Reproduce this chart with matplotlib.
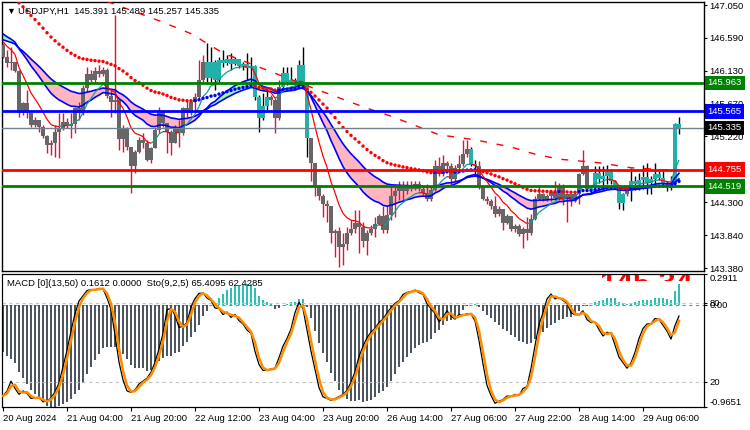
import matplotlib
matplotlib.use('Agg')
import matplotlib.pyplot as plt
import numpy as np
from matplotlib.collections import LineCollection
from matplotlib.transforms import Bbox, TransformedBbox, blended_transform_factory

plt.rcParams['font.family'] = ['Liberation Sans', 'DejaVu Sans']

symbol = 'USDJPY,H1'
first_open = 146.49

close = [
    146.33, 146.24, 146.26, 146.13, 145.54, 145.68, 145.54, 145.38, 145.45, 145.35,
    145.22, 145.10, 145.13, 145.28, 145.33, 145.42, 145.36, 145.39, 145.61, 145.54,
    145.89, 146.09, 146.01, 146.13, 146.09, 146.15, 145.78, 145.70, 145.73, 145.18,
    145.33, 145.07, 144.80, 145.00, 145.17, 145.12, 144.89, 145.05, 145.31, 145.56,
    145.40, 145.28, 145.13, 145.35, 145.26, 145.61, 145.54, 145.70, 145.77, 146.00,
    146.26, 146.03, 146.26, 146.00, 146.28, 146.24, 146.29, 146.23, 146.29, 146.20,
    146.23, 146.17, 146.20, 145.77, 145.47, 145.64, 145.76, 145.73, 145.47, 145.90,
    146.10, 145.98, 146.00, 145.97, 146.21, 145.96, 145.19, 144.84, 144.52, 144.38,
    144.27, 144.24, 143.87, 143.90, 143.68, 143.72, 143.87, 143.93, 144.01, 143.96,
    143.76, 143.87, 143.93, 144.00, 144.11, 143.91, 144.12, 144.39, 144.45, 144.52,
    144.45, 144.53, 144.48, 144.56, 144.48, 144.43, 144.34, 144.47, 144.80, 144.69,
    144.85, 144.80, 144.62, 144.77, 144.83, 144.97, 145.04, 144.83, 144.80, 144.51,
    144.35, 144.32, 144.25, 144.14, 144.21, 144.01, 144.11, 143.92, 143.97, 143.85,
    143.92, 143.87, 144.06, 144.34, 144.41, 144.34, 144.38, 144.44, 144.36, 144.53,
    144.34, 144.41, 144.32, 144.41, 144.69, 144.81, 144.48, 144.52, 144.71, 144.62,
    144.66, 144.72, 144.60, 144.53, 144.29, 144.41, 144.45, 144.60, 144.55, 144.61,
    144.65, 144.57, 144.62, 144.69, 144.64, 144.57, 144.53, 144.56, 145.391, 145.335,
]
high = [
    146.52, 146.42, 146.47, 146.26, 146.14, 145.70, 145.86, 145.49, 145.49, 145.42,
    145.38, 145.24, 145.17, 145.38, 145.54, 145.54, 145.47, 145.54, 145.63, 145.70,
    145.93, 146.19, 146.14, 146.19, 146.21, 146.19, 146.17, 145.86, 146.91, 145.73,
    145.38, 145.35, 145.07, 145.03, 145.21, 145.26, 145.17, 145.07, 145.33, 145.63,
    145.59, 145.40, 145.31, 145.38, 145.45, 145.63, 145.73, 145.73, 145.82, 146.28,
    146.35, 146.52, 146.47, 146.28, 146.33, 146.42, 146.35, 146.38, 146.33, 146.28,
    146.26, 146.38, 146.33, 146.21, 145.80, 145.82, 145.89, 145.80, 145.77, 146.00,
    146.19, 146.19, 146.19, 146.03, 146.28, 146.47, 145.98, 145.19, 144.84, 144.54,
    144.42, 144.33, 144.24, 143.93, 143.96, 143.87, 143.96, 144.05, 144.19, 144.19,
    144.03, 143.91, 143.98, 144.10, 144.14, 144.24, 144.24, 144.56, 144.56, 144.59,
    144.59, 144.59, 144.59, 144.59, 144.59, 144.52, 144.56, 144.52, 144.89, 144.93,
    144.96, 144.87, 144.84, 144.82, 144.96, 145.17, 145.17, 145.07, 144.89, 144.87,
    144.52, 144.38, 144.34, 144.38, 144.25, 144.19, 144.14, 144.03, 144.00, 144.00,
    143.96, 144.10, 144.14, 144.38, 144.52, 144.43, 144.41, 144.47, 144.59, 144.57,
    144.56, 144.43, 144.42, 144.45, 144.71, 145.03, 144.82, 144.54, 144.80, 144.80,
    144.80, 144.82, 144.75, 144.61, 144.49, 144.43, 144.49, 144.77, 144.66, 144.70,
    144.82, 144.84, 144.66, 144.84, 144.73, 144.73, 144.59, 144.66, 145.40, 145.489,
]
low = [
    146.31, 146.19, 146.14, 146.12, 145.49, 145.52, 145.47, 145.35, 145.35, 145.28,
    145.20, 144.98, 144.96, 144.93, 144.91, 145.31, 145.33, 145.19, 145.26, 145.45,
    145.52, 145.84, 145.98, 145.96, 146.05, 146.06, 145.75, 145.49, 145.54, 145.03,
    145.00, 145.03, 144.43, 144.70, 144.98, 145.05, 144.87, 144.85, 145.05, 145.26,
    145.35, 144.98, 144.96, 145.12, 145.07, 145.24, 145.49, 145.52, 145.59, 145.73,
    145.96, 145.96, 145.98, 145.86, 145.98, 146.19, 146.21, 146.14, 146.21, 146.17,
    146.14, 146.00, 145.98, 145.73, 145.28, 145.45, 145.59, 145.66, 145.27, 145.45,
    145.89, 145.93, 145.95, 145.93, 145.93, 145.93, 144.93, 144.59, 144.38, 144.33,
    144.10, 144.03, 143.73, 143.54, 143.40, 143.42, 143.63, 143.84, 143.87, 143.59,
    143.68, 143.56, 143.84, 143.81, 143.98, 143.87, 143.87, 144.05, 144.10, 144.33,
    144.33, 144.42, 144.45, 144.47, 144.45, 144.40, 144.31, 144.32, 144.45, 144.66,
    144.66, 144.75, 144.54, 144.59, 144.73, 144.80, 144.93, 144.80, 144.66, 144.49,
    144.33, 144.27, 144.21, 144.10, 144.11, 143.91, 144.00, 143.90, 143.89, 143.83,
    143.66, 143.77, 143.84, 144.05, 144.33, 144.31, 144.32, 144.32, 144.33, 144.33,
    144.26, 144.03, 144.24, 144.30, 144.28, 144.68, 144.45, 144.43, 144.47, 144.57,
    144.49, 144.56, 144.55, 144.49, 144.21, 144.19, 144.38, 144.31, 144.47, 144.47,
    144.49, 144.42, 144.42, 144.52, 144.61, 144.52, 144.45, 144.47, 144.52, 145.257,
]

# bars drawn in the "up trend" colour (first, last bar index)
teal_ranges = [(51, 66), (70, 76), (117, 118), (147, 155), (157, 169)]

# seeds of the moving averages at the left edge of the chart
seed_ma8 = 146.60
seed_fast = 146.68
seed_slow = 146.58
seed_ma50 = 147.30
seed_ma13 = 146.90

# long dashed average, read as vertices (bar index, price)
dash_idx = [26, 40, 47, 55, 79, 91, 97, 109, 118, 127, 133, 139, 149, 157, 169]
dash_val = [147.10, 146.81, 146.65, 146.38, 145.86, 145.61, 145.50, 145.24, 145.17,
            145.07, 144.97, 144.90, 144.85, 144.78, 144.74]

levels = [145.963, 145.565, 145.335, 144.755, 144.519]
level_line_colors = ['green', 'blue', 'slategray', 'red', 'green']
level_box_colors = ['green', 'blue', 'black', 'red', 'green']

price_ticks = [147.050, 146.590, 146.130, 145.670, 145.220, 144.760, 144.300, 143.840, 143.380]
time_ticks = [0, 16, 32, 48, 64, 80, 96, 112, 128, 144, 160]
time_labels = ['20 Aug 2024', '21 Aug 04:00', '21 Aug 20:00', '22 Aug 12:00', '23 Aug 04:00',
               '23 Aug 20:00', '26 Aug 14:00', '27 Aug 06:00', '27 Aug 22:00', '28 Aug 14:00',
               '29 Aug 06:00']

macd_max = 0.2911
macd_min = -0.9651
macd_text = 'MACD [0](13,50) 0.1612 0.0000  Sto(9,2,5) 65.4095 62.4285'


def ema(vals, period, seed):
    a = 2.0 / (period + 1)
    out = []
    prev = seed
    for v in vals:
        prev = prev + a * (v - prev)
        out.append(prev)
    return np.array(out)


def stochastic(h, l, c, k=9, slow=5, d=2):
    n = len(c)
    lo = np.array([min(l[max(0, i - k + 1):i + 1]) for i in range(n)])
    hi = np.array([max(h[max(0, i - k + 1):i + 1]) for i in range(n)])
    num = c - lo
    den = hi - lo
    main = np.array([num[max(0, i - slow + 1):i + 1].sum() / den[max(0, i - slow + 1):i + 1].sum() * 100
                     for i in range(n)])
    sig = np.array([main[max(0, i - d + 1):i + 1].mean() for i in range(n)])
    return main, sig


c = np.array(close)
h = np.array(high)
l = np.array(low)
n = len(c)
o = np.r_[first_open, c[:-1]]
x = np.arange(n)

ma8 = ema(c, 8, seed_ma8)
band_fast = ema(c, 20, seed_fast)
band_slow = ema(c, 33, seed_slow)
ma50 = ema(c, 50, seed_ma50)
ma13 = ema(c, 13, seed_ma13)
hist = ma13 - ma50
st_main, st_sig = stochastic(h, l, c)

W, H = 750, 430
fig = plt.figure(figsize=(7.5, 4.3), dpi=100)
fig.patch.set_facecolor('white')


def box(x0, y0, x1, y1):
    return [x0 / W, 1 - y1 / H, (x1 - x0) / W, (y1 - y0) / H]


ax = fig.add_axes(box(2, 2, 704, 271))
ax2 = fig.add_axes(box(2, 274, 704, 407))
xlim = (-0.25, 175.25)

# ---- main pane ----
ax.fill_between(x, band_fast, band_slow, where=band_fast >= band_slow, interpolate=True,
                color='palegreen', lw=0, zorder=1)
ax.fill_between(x, band_fast, band_slow, where=band_fast < band_slow, interpolate=True,
                color='lightpink', lw=0, zorder=1)

teal = np.zeros(n, bool)
for a, b in teal_ranges:
    teal[a:b + 1] = True
body_col = np.where(teal, '#20b2aa', '#666666')
wick_col = np.where(teal, 'black', 'crimson')
lo_w = np.minimum(l, np.minimum(o, c))
hi_w = np.maximum(h, np.maximum(o, c))
ax.vlines(x, lo_w, hi_w, colors=wick_col, lw=1, zorder=3)
ax.bar(x, np.maximum(np.abs(c - o), 0.006), bottom=np.minimum(o, c), width=0.78,
       color=body_col, lw=0, zorder=4)

ax.plot(x, band_fast, color='blue', lw=1.2, zorder=5)
ax.plot(x, band_slow, color='blue', lw=1.2, zorder=5)

segs = [[(i, ma8[i]), (i + 1, ma8[i + 1])] for i in range(n - 1)]
seg_cols = ['red' if ma8[i + 1] < ma8[i] else '#139c94' for i in range(n - 1)]
ax.add_collection(LineCollection(segs, colors=seg_cols, lw=0.9, zorder=5))

ax.plot(dash_idx, dash_val, color='red', lw=1, ls=(0, (5, 7)), zorder=5)

dot_cols = ['red' if i > 0 and ma50[i] < ma50[i - 1] else 'blue' for i in range(n)]
dot_cols[0] = 'red'
ax.scatter(x, ma50, s=6, c=dot_cols, lw=0, zorder=6)

for lv, lc in zip(levels, level_line_colors):
    ax.axhline(lv, color=lc, lw=1 if lc == 'slategray' else 2, zorder=7)

trans = blended_transform_factory(ax.transAxes, ax.transData)
for lv, bc in zip(levels, level_box_colors):
    ax.text(1.005, lv, f'{lv:.3f}', transform=trans, color='white', fontsize=6.8,
            va='center', ha='left', clip_on=False, zorder=10,
            bbox=dict(boxstyle='square,pad=0.3', fc=bc, ec='none'))

ax.set_xlim(*xlim)
ax.set_ylim(143.340, 147.092)
ax.set_xticks([])
ax.yaxis.tick_right()
ax.set_yticks(price_ticks)
ax.set_yticklabels([f'{t:.3f}' for t in price_ticks])
ax.tick_params(axis='y', length=2.5, width=0.8, pad=1.5, labelsize=6.8)
for s in ax.spines.values():
    s.set_linewidth(1)

fig.text(6 / W, 1 - 11 / H, '\u25bc', fontsize=6.5, va='center', ha='left')
fig.text(18 / W, 1 - 11 / H, f'{symbol}  {o[-1]:.3f} {h[-1]:.3f} {l[-1]:.3f} {c[-1]:.3f}',
         fontsize=6.8, va='center', ha='left')

# ---- lower pane ----
ax3 = ax2.twinx()

ax2.bar(x, hist, width=0.7, color=np.where(hist >= 0, '#2ebfb3', '#4c5560'), lw=0, zorder=2)
ax2.axhline(0, color='#7d8a99', lw=0.8, ls=(0, (3, 3)), zorder=1)
ax2.set_xlim(*xlim)
ax2.set_ylim(macd_min, macd_max)
ax2.yaxis.tick_right()
ax2.set_yticks([macd_max, 0.0, macd_min])
ax2.set_yticklabels([f'{macd_max:.4f}', '0.00', f'{macd_min:.4f}'])
ylab = ax2.get_yticklabels()
ylab[0].set_va('top')
ylab[2].set_va('bottom')
ax2.tick_params(axis='y', length=2.5, width=0.8, pad=1.5, labelsize=6.8)
ax2.set_xticks(time_ticks)
ax2.set_xticklabels(time_labels)
for lb in ax2.get_xticklabels():
    lb.set_ha('left')
ax2.tick_params(axis='x', length=3, width=0.8, pad=2, labelsize=6.8)

ax3.set_ylim(1, 102)
ax3.axhline(80, color='#c4c4c4', lw=0.8, ls=(0, (3, 3)))
ax3.axhline(20, color='#c4c4c4', lw=0.8, ls=(0, (3, 3)))
ax3.plot(x, st_main, color='black', lw=0.9, zorder=3)
ax3.plot(x, st_sig, color='darkorange', lw=1.8, zorder=4)
ax3.set_yticks([80, 20])
ax3.set_yticklabels(['80', '20'])
ax3.tick_params(axis='y', length=2.5, width=0.8, pad=1.5, labelsize=6.8)
ax3.set_xlim(*xlim)

big = ax3.text(0.85, 1.03, '145.34', transform=ax3.transAxes, fontsize=22, fontweight='bold',
               color='red', ha='left', va='top', zorder=1)
big.set_clip_box(TransformedBbox(Bbox([[0, 0.945], [1, 1]]), ax3.transAxes))
big.set_clip_on(True)

fig.text(7 / W, 1 - 284 / H, macd_text, fontsize=6.8, va='center', ha='left')

fig.savefig('out.png', dpi=100)
